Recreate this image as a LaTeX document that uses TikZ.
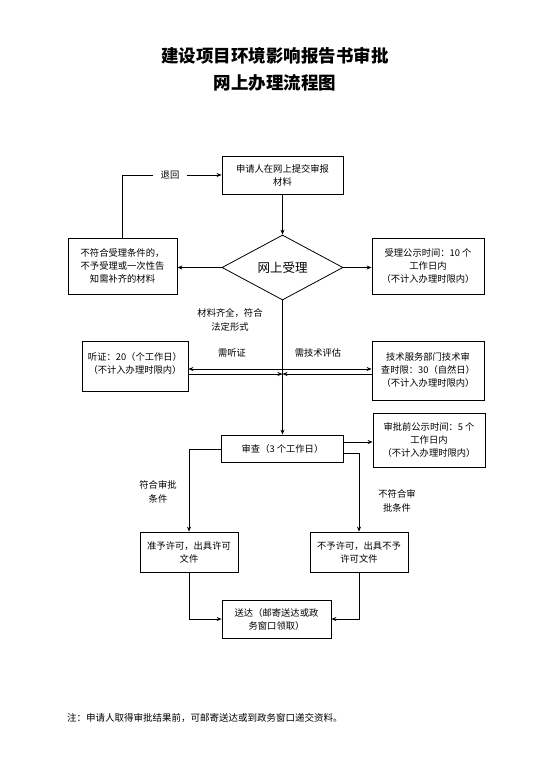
\documentclass[tikz,border=0pt]{standalone}
\usepackage{fontspec}
\setmainfont{Noto Sans CJK SC}
\usetikzlibrary{shapes.geometric,arrows.meta}
\begin{document}
\begin{tikzpicture}[x=1pt,y=-1pt,
  box/.style={draw,line width=0.8pt,inner sep=0pt,align=center,font=\fontsize{9.3}{13}\selectfont},
  lbl/.style={inner sep=1pt,align=center,font=\fontsize{9.3}{14}\selectfont},
  arr/.style={line width=0.7pt,-{Stealth[length=5pt,width=4pt]}},
  ln/.style={line width=0.7pt}]
\useasboundingbox (0,0) rectangle (555,771);
\node[font=\bfseries\fontsize{17.5}{27}\selectfont,align=center] (title) at (275,69.5) {建设项目环境影响报告书审批\\网上办理流程图};
\node[box,minimum width=121pt,minimum height=38pt] (sub) at (282.5,175) {申请人在网上提交审报\\材料};
\node[draw,diamond,line width=0.8pt,inner sep=0pt,minimum width=121pt,minimum height=65pt,aspect=2,font=\fontsize{12.5}{14}\selectfont] (d) at (282.5,267.5) {网上受理};
\node[box,minimum width=109pt,minimum height=56pt] (rej) at (122.5,266) {不符合受理条件的，\\不予受理或一次性告\\知需补齐的材料};
\node[box,minimum width=112pt,minimum height=56pt] (pub) at (428,266) {受理公示时间：10 个\\工作日内\\（不计入办理时限内）};
\node[box,minimum width=106pt,minimum height=50pt] (hear) at (135,366) {听证：20（个工作日）\\（不计入办理时限内）\\[-8pt]};
\node[box,minimum width=112pt,minimum height=59pt] (tech) at (428,370.5) {技术服务部门技术审\\查时限：30（自然日）\\（不计入办理时限内）};
\node[box,minimum width=122pt,minimum height=27pt] (sc) at (282.5,448.5) {审查（3 个工作日）};
\node[box,minimum width=112pt,minimum height=54pt] (pre) at (429,440) {审批前公示时间：5 个\\工作日内\\（不计入办理时限内）};
\node[box,minimum width=98pt,minimum height=40pt] (ok) at (189,552) {准予许可，出具许可\\文件};
\node[box,minimum width=98pt,minimum height=40pt] (no) at (359,552) {不予许可，出具不予\\许可文件};
\node[box,minimum width=109pt,minimum height=38pt] (del) at (276.5,619) {送达（邮寄送达或政\\务窗口领取）};
% connectors
\draw[arr] (sub.south) -- (d.north);
\draw[arr] (d.west) -- (rej.east |- d.west);
\draw[arr] (d.east) -- (pub.west |- d.east);
\coordinate (rt) at (122,175);
\draw[arr] (rej.north -| rt) -- (rt) -- (sub.west);
\node[lbl,fill=white,inner xsep=8pt] (back) at (170,175) {退回};
\draw[arr] (d.south) -- (sc.north);
\node[lbl] (cond) at (230,320) {材料齐全，符合\\法定形式};
\coordinate (m1) at (282.5,369);
\coordinate (m2) at (282.5,374);
\draw[arr] (m1) -- (hear.east |- m1);
\draw[arr] (hear.east |- m2) -- (m2);
\draw[arr] (m1) -- (tech.west |- m1);
\draw[arr] (tech.west |- m2) -- (m2);
\node[lbl] (nh) at (232,353) {需听证};
\node[lbl] (nt) at (318,353) {需技术评估};
\coordinate (p1) at ([yshift=6.5pt]sc.east);
\draw[arr] (p1) -- (pre.west |- p1);
\draw[arr] ([yshift=-0.5pt]sc.west) -| (ok.north);
\draw[arr] ([yshift=-4.5pt]sc.east) -| (no.north);
\node[lbl] (yes) at (158,492) {符合审批\\条件};
\node[lbl] (nyes) at (397,501) {不符合审\\批条件};
\draw[arr] (ok.south) |- (del.west);
\draw[arr] (no.south) |- (del.east);
\node[anchor=west,inner sep=0pt,font=\fontsize{9.5}{10}\selectfont] (note) at (67,718) {注：申请人取得审批结果前，可邮寄送达或到政务窗口递交资料。};
\end{tikzpicture}
\end{document}
